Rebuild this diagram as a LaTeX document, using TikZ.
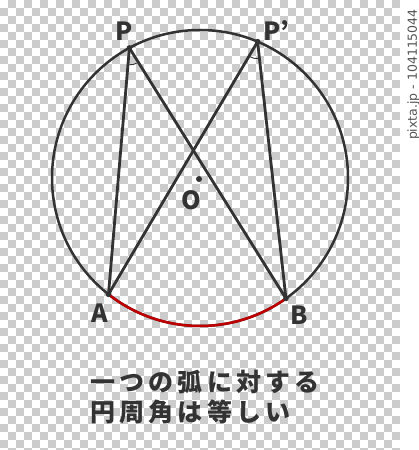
\documentclass[tikz,border=0pt]{standalone}
\usepackage{fontspec}
\newfontfamily\jp{Noto Sans CJK JP}
\newfontfamily\jpsp{Noto Sans CJK JP}[LetterSpace=17]
\newfontfamily\wm{DejaVu Sans}
\definecolor{ink}{HTML}{333333}
\definecolor{arcred}{HTML}{C00000}
\definecolor{chk}{HTML}{CCCCCC}
\definecolor{wmgray}{HTML}{555555}
\tikzset{
  edge/.style={draw=ink, line width=2.8pt, line cap=round},
  rim/.style={draw=ink, line width=2.5pt},
  redarc/.style={draw=arcred, line width=2.5pt},
  anglemark/.style={draw=ink, line width=0.9pt},
  ptlabel/.style={font=\jp\bfseries\fontsize{25}{25}\selectfont, text=ink, inner sep=0pt},
  caption/.style={font=\jpsp\bfseries\fontsize{25}{25}\selectfont, text=ink, inner sep=0pt, anchor=west},
  dotpt/.style={fill=ink}
}
\begin{document}
\begin{tikzpicture}[x=1pt,y=1pt]
\useasboundingbox (0,0) rectangle (419,450);
\begin{scope}
\clip (0,0) rectangle (400,450);
\fill[white] (0,0) rectangle (419,450);
\foreach \i in {0,...,49}{
  \foreach \j in {0,...,56}{
    \pgfmathtruncatemacro\s{\i+\j}
    \ifodd\s \fill[chk] (8*\i,450-8*\j-8) rectangle (8*\i+8,450-8*\j); \fi
  }
}
\end{scope}
\fill[white] (400,0) rectangle (419,450);
\node[font=\wm\fontsize{12.5}{12.5}\selectfont, text=wmgray, rotate=90, anchor=east, inner sep=0pt] (wmark) at (413.5,441) {pixta.jp - 104115044};

\coordinate (O) at (200,272);
\begin{scope}[shift={(200,272)}]
  \coordinate (P) at (118.5:148);
  \coordinate (P2) at (67.1:148);
  \coordinate (A) at (-128.2:148);
  \coordinate (B) at (-54.5:148);
\end{scope}
\draw[rim] (O) circle[radius=148];
\draw[redarc] (A) arc[start angle=-128.2, end angle=-54.5, radius=148];
\draw[edge] (P) -- (A);
\draw[edge] (P) -- (B);
\draw[edge] (P2) -- (A);
\draw[edge] (P2) -- (B);
\draw[anglemark] (P) ++(265.15:17) arc[start angle=265.15, end angle=302, radius=17];
\draw[anglemark] (P2) ++(239.45:17) arc[start angle=239.45, end angle=276.3, radius=17];
\foreach \p in {P,P2,A,B}{\fill[dotpt] (\p) circle[radius=2.8];}
\fill[dotpt] (199,271) circle[radius=3];

\node[ptlabel] (lP) at (124,419) {P};
\node[ptlabel] (lP2) at (276,419) {P’};
\node[ptlabel] (lA) at (99.5,137) {A};
\node[ptlabel] (lB) at (299.5,135) {B};
\node[ptlabel] (lO) at (191.5,250) {O};

\node[caption] (cap1) at (90,68) {一つの弧に対する};
\node[caption] (cap2) at (90,38) {円周角は等しい};
\end{tikzpicture}
\end{document}
